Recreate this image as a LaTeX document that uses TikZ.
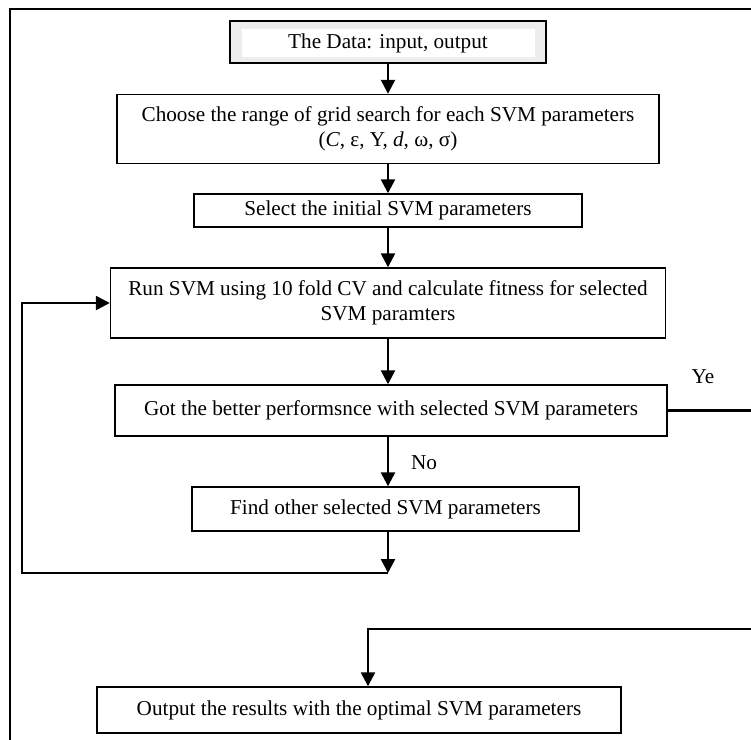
\documentclass[tikz,border=0pt]{standalone}
\usepackage{fontspec}
\setmainfont{Liberation Serif}
\usetikzlibrary{arrows.meta}
\tikzset{
	stepbox/.style={draw=black, line width=0.7pt, fill=white, inner sep=0pt, align=center, font=\fontsize{10.6}{12.5}\selectfont},
	arr/.style={line width=1.2pt, -{Triangle[length=7pt, width=7pt]}},
	link/.style={line width=1.2pt},
	tag/.style={inner sep=0pt, font=\fontsize{10.6}{12.5}\selectfont},
}

\begin{document}
\begin{tikzpicture}[x=0.5pt, y=-0.5pt]
		%%%%% START %%%%%
		\clip (0, 0) rectangle (751, 740);
		\draw[line width=1.1pt] (10, 760) -- (10, 9) -- (770, 9);
		
		\node[stepbox, fill=black!7, line width=1pt, minimum width=158pt, minimum height=21pt] (data) at (388, 42) {};
		\node[tag, fill=white, minimum width=146.5pt, minimum height=14pt] (datatxt) at (388, 43) {The Data: input, output};
		
		\node[stepbox, minimum width=271pt, minimum height=34.5pt] (range) at (388, 129) {Choose the range of grid search for each SVM parameters\\(\textit{C}, ε, Y, \textit{d}, ω, σ)};
		\node[stepbox, minimum width=194pt, minimum height=16.5pt] (init) at (388, 210.5) {Select the initial SVM parameters};
		\node[stepbox, minimum width=277.5pt, minimum height=35pt] (run) at (388, 303) {Run SVM using 10 fold CV and calculate fitness for selected\\SVM paramters};
		\node[stepbox, minimum width=276pt, minimum height=25.5pt] (better) at (391, 410.5) {Got the better performsnce with selected SVM parameters};
		\node[stepbox, minimum width=193.5pt, minimum height=22pt] (other) at (385.5, 509) {Find other selected SVM parameters};
		\node[stepbox, minimum width=262pt, minimum height=23pt] (result) at (359, 710) {Output the results with the optimal SVM parameters};
		
		\draw[arr] (data.south) -- (data.south |- range.north);
		\draw[arr] (data.south |- range.south) -- (data.south |- init.north);
		\draw[arr] (data.south |- init.south) -- (data.south |- run.north);
		\draw[arr] (data.south |- run.south) -- (data.south |- better.north);
		\draw[arr] (data.south |- better.south) -- (data.south |- other.north);
		\node[tag] (no) at (424, 463) {No};
		
		% loop back
		\coordinate (loopR) at (388, 573);
		\coordinate (loopL) at (22, 573);
		\draw[arr] (data.south |- other.south) -- (loopR);
		\draw[arr] (loopR) -- (loopL) |- (run.west);
		
		% yes branch
		\coordinate (yesR) at (770, 410.5);
		\draw[link] (better.east) -- (yesR);
		\node[tag] (yes) at (703, 377) {Ye};
		\coordinate (backR) at (770, 629);
		\coordinate (backL) at (368, 629);
		\draw[arr] (backR) -- (backL) -- (backL |- result.north);
		%%%%% END %%%%%
\end{tikzpicture}
\end{document}
